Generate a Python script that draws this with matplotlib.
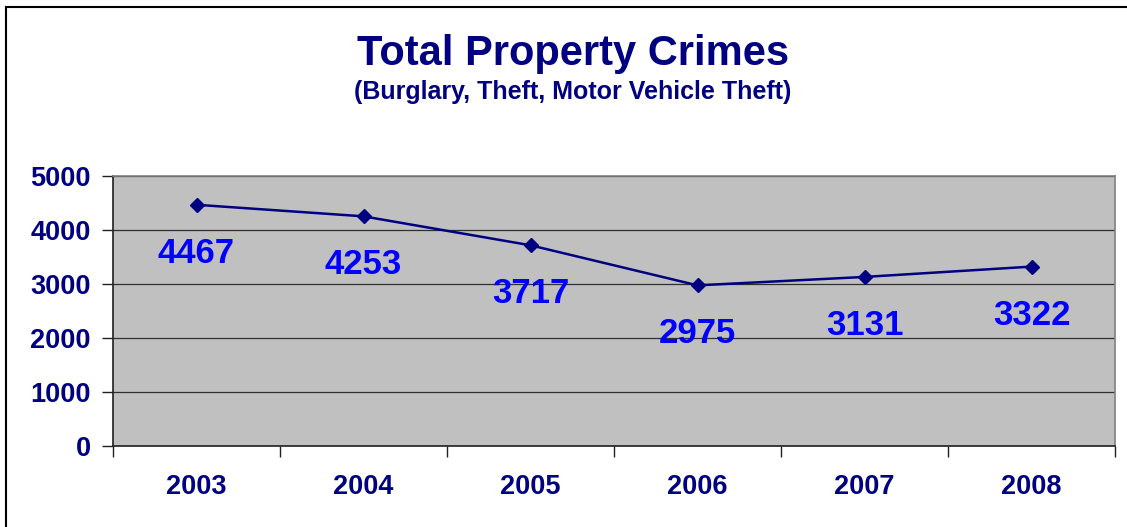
import matplotlib
matplotlib.use("Agg")
import matplotlib.pyplot as plt
from matplotlib.lines import Line2D

# Data
years = ["2003", "2004", "2005", "2006", "2007", "2008"]
crimes = [4467, 4253, 3717, 2975, 3131, 3322]
y_ticks = [0, 1000, 2000, 3000, 4000, 5000]

navy = "#000080"
label_blue = "#0000FF"
plt.rcParams["font.family"] = ["Liberation Sans", "DejaVu Sans"]

fig = plt.figure(figsize=(11.27, 5.27), dpi=100)
ax = fig.add_axes([113 / 1127, 1 - 446 / 527, (1115 - 113) / 1127, (446 - 176) / 527])
ax.set_facecolor("#C0C0C0")

x = list(range(len(years)))
ax.plot(x, crimes, color=navy, linewidth=1.8, marker="D", markersize=7,
        markerfacecolor=navy, markeredgecolor=navy, zorder=3)

for xi, v in zip(x, crimes):
    ax.annotate(str(v), (xi, v), xytext=(0, -35), textcoords="offset points",
                ha="center", va="center", fontsize=25, fontweight="bold",
                color=label_blue, zorder=4)

ax.set_xlim(-0.5, len(years) - 0.5)
ax.set_ylim(0, 5000)
ax.set_yticks(y_ticks)
ax.set_yticklabels([str(t) for t in y_ticks], fontsize=19.5, fontweight="bold", color=navy)
ax.yaxis.grid(True, color="#303030", linewidth=0.9)
ax.set_axisbelow(True)

# category ticks between the years, labels at the centers
ax.set_xticks([i - 0.5 for i in range(len(years) + 1)])
ax.set_xticklabels([])
ax.set_xticks(x, minor=True)
ax.set_xticklabels(years, minor=True, fontsize=19.5, fontweight="bold", color=navy)
ax.tick_params(axis="x", which="minor", length=0, pad=20)
ax.tick_params(axis="x", which="major", length=8, width=1, color="#202020")
ax.tick_params(axis="y", length=8, width=1, color="#202020", pad=8)

ax.spines["left"].set_color("#202020")
ax.spines["bottom"].set_color("#202020")
ax.spines["top"].set_color("#808080")
ax.spines["right"].set_color("#808080")
for s in ax.spines.values():
    s.set_linewidth(1.2)

fig.text(573 / 1127, 1 - 54 / 527, "Total Property Crimes", ha="center", va="center",
         fontsize=30, fontweight="bold", color=navy)
fig.text(573 / 1127, 1 - 92 / 527, "(Burglary, Theft, Motor Vehicle Theft)", ha="center",
         va="center", fontsize=18, fontweight="bold", color=navy)

# outer chart frame (only top and left edges visible)
fig.add_artist(Line2D([6 / 1127, 6 / 1127], [0, 1 - 7 / 527], transform=fig.transFigure,
                      color="black", linewidth=1.5))
fig.add_artist(Line2D([6 / 1127, 1], [1 - 7 / 527, 1 - 7 / 527], transform=fig.transFigure,
                      color="black", linewidth=1.5))

fig.savefig("out.png", dpi=100, facecolor="white")
